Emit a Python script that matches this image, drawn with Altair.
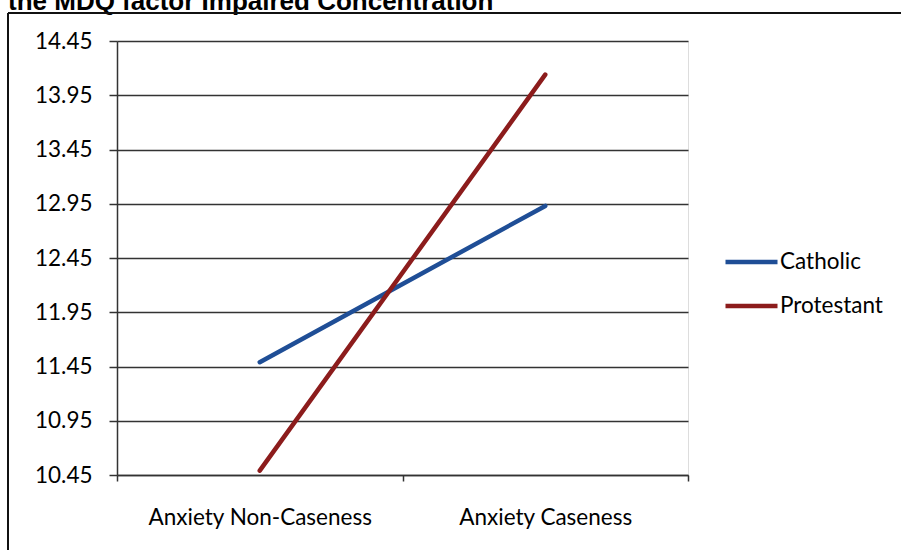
import altair as alt
import pandas as pd

# Mean scores on the MDQ factor "Impaired Concentration"
categories = ["Anxiety Non-Caseness", "Anxiety Caseness"]
catholic = [11.49, 12.93]
protestant = [10.49, 14.14]
series_names = ["Catholic", "Protestant"]
series_colors = ["#1F4E96", "#8C1C1C"]
y_ticks = [10.45, 10.95, 11.45, 11.95, 12.45, 12.95, 13.45, 13.95, 14.45]
title_text = "the MDQ factor Impaired Concentration"

rows = []
for name, vals in zip(series_names, [catholic, protestant]):
    for cat, v in zip(categories, vals):
        rows.append({"group": cat, "religion": name, "score": v})
df = pd.DataFrame(rows)

FONT = "Lato"
FS = 22.5
W, H = 571, 434
PAD_L, PAD_T = 117, 41

lines = alt.Chart(df).mark_line(strokeWidth=4.5, strokeCap="round").encode(
    x=alt.X(
        "group:N",
        sort=categories,
        scale=alt.Scale(type="band", paddingInner=0, paddingOuter=0),
        bandPosition=0.5,
        axis=alt.Axis(
            title=None, labelAngle=0, tickBand="extent", grid=False,
            domainColor="#333333", domainWidth=1.5, tickColor="#333333",
            tickWidth=1.5, tickSize=6, labelFont=FONT, labelFontSize=FS,
            labelColor="#000000", labelPadding=25, labelLimit=0,
        ),
    ),
    y=alt.Y(
        "score:Q",
        scale=alt.Scale(domain=[10.45, 14.45], nice=False, zero=False),
        axis=alt.Axis(
            title=None, values=y_ticks, format=".2f", grid=True,
            gridColor="#333333", gridWidth=1.5, domainColor="#333333",
            domainWidth=1.5, tickColor="#333333", tickWidth=1.5, tickSize=8,
            labelFont=FONT, labelFontSize=FS, labelColor="#000000",
            labelPadding=17,
        ),
    ),
    color=alt.Color(
        "religion:N",
        scale=alt.Scale(domain=series_names, range=series_colors),
        legend=alt.Legend(
            title=None, orient="none", legendX=606, legendY=209,
            symbolType="stroke", symbolSize=2704, symbolStrokeWidth=4.5,
            labelFont=FONT, labelFontSize=FS, labelColor="#000000",
            labelOffset=0, rowPadding=20, clipHeight=24,
        ),
    ),
)

title = alt.Chart(pd.DataFrame({"t": [title_text]})).mark_text(
    align="left", baseline="alphabetic", font="Liberation Sans",
    fontWeight="bold", fontSize=26, color="#000000",
).encode(x=alt.value(-109), y=alt.value(-31), text="t:N")

frame_top = alt.Chart(pd.DataFrame({"k": [0]})).mark_rule(
    color="#111111", strokeWidth=2
).encode(x=alt.value(-109), x2=alt.value(W + 240), y=alt.value(-28))

frame_left = alt.Chart(pd.DataFrame({"k": [0]})).mark_rule(
    color="#111111", strokeWidth=2
).encode(x=alt.value(-109), y=alt.value(-28), y2=alt.value(H + 120))

chart = alt.layer(lines, title, frame_top, frame_left).properties(
    width=W, height=H,
    autosize=alt.AutoSizeParams(type="none"),
    padding={"left": PAD_L, "top": PAD_T, "right": 901 - PAD_L - W, "bottom": 550 - PAD_T - H},
).configure_view(stroke=None).configure(background="white")

chart.save("out.html", embed_options={"renderer": "svg", "actions": False})
